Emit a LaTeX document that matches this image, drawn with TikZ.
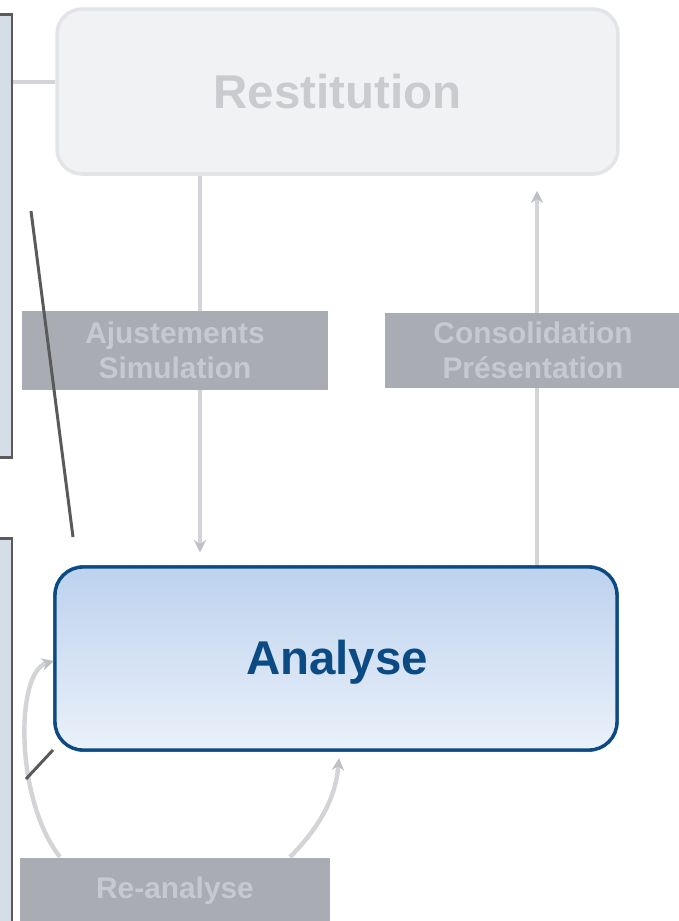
\documentclass[tikz,border=0pt]{standalone}
\usepackage{fontspec}
\setmainfont{Liberation Sans}
\usetikzlibrary{arrows.meta}
\definecolor{panelfill}{HTML}{D5DDE6}
\definecolor{panelline}{HTML}{5A5A5A}
\definecolor{resfill}{HTML}{F1F2F4}
\definecolor{resline}{HTML}{E2E4E7}
\definecolor{restext}{HTML}{C9CBCF}
\definecolor{greybox}{HTML}{A9ADB3}
\definecolor{greytext}{HTML}{C6CACE}
\definecolor{conn}{HTML}{D2D4D7}
\definecolor{connhead}{HTML}{BDC0C4}
\definecolor{analine}{HTML}{0B4A83}
\definecolor{anatop}{HTML}{BDD2EE}
\definecolor{anabot}{HTML}{EAF1FA}
\tikzset{
  panel/.style={draw=panelline, line width=1.7pt, fill=panelfill, inner sep=0pt},
  resbox/.style={draw=resline, line width=2pt, fill=resfill, rounded corners=0.5cm,
    text=restext, font=\bfseries\fontsize{27}{30}\selectfont},
  greystep/.style={fill=greybox, text=greytext, align=center,
    font=\bfseries\fontsize{17}{20}\selectfont},
  anabox/.style={draw=analine, line width=1.9pt, rounded corners=0.56cm,
    top color=anatop, bottom color=anabot, text=analine,
    font=\bfseries\fontsize{27}{30}\selectfont},
  softline/.style={draw=conn, line width=2.5pt},
  softarrow/.style={softline, -{Stealth[length=7pt,width=7pt,color=connhead]}},
  callout/.style={draw=panelline, line width=1.7pt}
}
\begin{document}
\begin{tikzpicture}[x=0.02cm,y=-0.02cm]
\useasboundingbox[fill=white] (0,0) rectangle (679,921);
% left panels
\node[panel, minimum width=0.64cm, minimum height=8.88cm] (p1) at (-4,236) {};
\node[panel, minimum width=0.64cm, minimum height=8.6cm] (p2) at (-4,753) {};
% coordinates for vertical connectors
\coordinate (l1) at (200,0);
\coordinate (l2) at (537,0);
% main boxes
\node[resbox, minimum width=11.22cm, minimum height=3.3cm] (res) at (337.5,91.5) {Restitution};
\node[anabox, minimum width=11.24cm, minimum height=3.66cm] (ana) at (336,658.5) {};
% connectors behind grey boxes
\draw[softline] (p1.east |- 0,82) -- (res.west |- 0,82);
\draw[softarrow] (res.south -| l1) -- ([yshift=0.26cm]ana.north -| l1);
\draw[softarrow] (ana.north -| l2) -- ([yshift=-0.3cm]res.south -| l2);
% grey steps
\node[greystep, minimum width=6.12cm, minimum height=1.58cm] (adj) at (175,350.5) {Ajustements\\Simulation};
\node[greystep, minimum width=5.92cm, minimum height=1.5cm] (cons) at (533,350.5) {Consolidation\\Présentation};
\node[greystep, minimum width=6.2cm, minimum height=1.34cm] (rea) at (175,891) {Re-analyse};
% curves from Re-analyse back to Analyse
\coordinate (c1s) at (60,857);
\coordinate (c1e) at (54,661);
\coordinate (c2s) at (290,857);
\coordinate (c2e) at (339,758);
\draw[softarrow] (c1s) .. controls (15,800) and (15,672) .. (c1e);
\draw[softarrow] (c2s) .. controls (322,825) and (336,795) .. (c2e);
% analyse box on top
\node[anabox, minimum width=11.24cm, minimum height=3.66cm] at (ana) {};
\node[text=analine, font=\bfseries\fontsize{27}{30}\selectfont] (analabel) at (337,662) {Analyse};
% callout lines
\coordinate (k1) at (31,211);
\coordinate (k2) at (73,537);
\coordinate (k3) at (26,779);
\coordinate (k4) at (53,750);
\draw[callout] (k1) -- (k2);
\draw[callout] (k3) -- (k4);
\end{tikzpicture}
\end{document}
